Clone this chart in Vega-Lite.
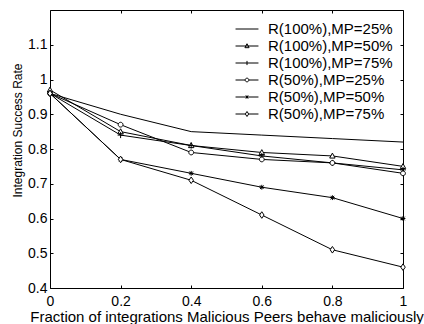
{
  "$schema": "https://vega.github.io/schema/vega-lite/v6.json",
  "width": 353,
  "height": 278,
  "autosize": {"type": "none"},
  "padding": {"left": 50, "top": 10, "right": 21, "bottom": 36},
  "background": "white",
  "config": {
    "font": "Liberation Sans",
    "view": {"stroke": "black", "strokeWidth": 1},
    "axis": {
      "grid": false,
      "domain": false,
      "tickColor": "black",
      "tickSize": 3,
      "offset": -3,
      "labelColor": "black",
      "labelFontSize": 14,
      "labelFlush": false,
      "labelOverlap": false,
      "titleColor": "black",
      "titleFontWeight": "normal"
    }
  },
  "data": {
    "values": [
      {"x": 0, "y": 0.96, "series": "R(100%),MP=25%"},
      {"x": 0.2, "y": 0.90, "series": "R(100%),MP=25%"},
      {"x": 0.4, "y": 0.85, "series": "R(100%),MP=25%"},
      {"x": 0.6, "y": 0.84, "series": "R(100%),MP=25%"},
      {"x": 0.8, "y": 0.83, "series": "R(100%),MP=25%"},
      {"x": 1, "y": 0.82, "series": "R(100%),MP=25%"},
      {"x": 0, "y": 0.97, "series": "R(100%),MP=50%"},
      {"x": 0.2, "y": 0.85, "series": "R(100%),MP=50%"},
      {"x": 0.4, "y": 0.81, "series": "R(100%),MP=50%"},
      {"x": 0.6, "y": 0.79, "series": "R(100%),MP=50%"},
      {"x": 0.8, "y": 0.78, "series": "R(100%),MP=50%"},
      {"x": 1, "y": 0.75, "series": "R(100%),MP=50%"},
      {"x": 0, "y": 0.96, "series": "R(100%),MP=75%"},
      {"x": 0.2, "y": 0.84, "series": "R(100%),MP=75%"},
      {"x": 0.4, "y": 0.81, "series": "R(100%),MP=75%"},
      {"x": 0.6, "y": 0.78, "series": "R(100%),MP=75%"},
      {"x": 0.8, "y": 0.76, "series": "R(100%),MP=75%"},
      {"x": 1, "y": 0.74, "series": "R(100%),MP=75%"},
      {"x": 0, "y": 0.96, "series": "R(50%),MP=25%"},
      {"x": 0.2, "y": 0.87, "series": "R(50%),MP=25%"},
      {"x": 0.4, "y": 0.79, "series": "R(50%),MP=25%"},
      {"x": 0.6, "y": 0.77, "series": "R(50%),MP=25%"},
      {"x": 0.8, "y": 0.76, "series": "R(50%),MP=25%"},
      {"x": 1, "y": 0.73, "series": "R(50%),MP=25%"},
      {"x": 0, "y": 0.96, "series": "R(50%),MP=50%"},
      {"x": 0.2, "y": 0.77, "series": "R(50%),MP=50%"},
      {"x": 0.4, "y": 0.73, "series": "R(50%),MP=50%"},
      {"x": 0.6, "y": 0.69, "series": "R(50%),MP=50%"},
      {"x": 0.8, "y": 0.66, "series": "R(50%),MP=50%"},
      {"x": 1, "y": 0.60, "series": "R(50%),MP=50%"},
      {"x": 0, "y": 0.96, "series": "R(50%),MP=75%"},
      {"x": 0.2, "y": 0.77, "series": "R(50%),MP=75%"},
      {"x": 0.4, "y": 0.71, "series": "R(50%),MP=75%"},
      {"x": 0.6, "y": 0.61, "series": "R(50%),MP=75%"},
      {"x": 0.8, "y": 0.51, "series": "R(50%),MP=75%"},
      {"x": 1, "y": 0.46, "series": "R(50%),MP=75%"}
    ]
  },
  "layer": [
    {
      "mark": {"type": "line", "color": "black", "strokeWidth": 1},
      "encoding": {
        "x": {
          "field": "x", "type": "quantitative",
          "scale": {"domain": [0, 1], "nice": false, "zero": false},
          "axis": {
            "orient": "bottom",
            "values": [0, 0.2, 0.4, 0.6, 0.8, 1],
            "format": "~g",
            "labelPadding": 6,
            "title": "Fraction of integrations Malicious Peers behave maliciously",
            "titleFontSize": 15,
            "titlePadding": 1
          }
        },
        "y": {
          "field": "y", "type": "quantitative",
          "scale": {"domain": [0.4, 1.2], "nice": false, "zero": false},
          "axis": {
            "orient": "left",
            "values": [0.4, 0.5, 0.6, 0.7, 0.8, 0.9, 1, 1.1],
            "format": "~g",
            "labelPadding": 3,
            "title": "Integration Success Rate",
            "titleFontSize": 12,
            "titlePadding": 3,
            "titleY": 120
          }
        },
        "detail": {"field": "series", "type": "nominal"}
      }
    },
    {
      "transform": [{"filter": "datum.series != 'R(100%),MP=25%'"}],
      "mark": {"type": "point", "filled": true, "fill": "white", "stroke": "black", "strokeWidth": 1, "opacity": 1, "size": 36},
      "encoding": {
        "x": {"field": "x", "type": "quantitative", "axis": null},
        "y": {"field": "y", "type": "quantitative", "axis": null},
        "shape": {
          "field": "series", "type": "nominal", "legend": null,
          "scale": {
            "domain": ["R(100%),MP=50%", "R(100%),MP=75%", "R(50%),MP=25%", "R(50%),MP=50%", "R(50%),MP=75%"],
            "range": [
              "M0,-0.95L0.9,0.7L-0.9,0.7Z",
              "M-1,0H1M0,-1V1",
              "M0.8,0A0.8,0.8,0,1,1,-0.8,0A0.8,0.8,0,1,1,0.8,0",
              "M-0.8,0H0.8M0,-0.8V0.8M-0.6,-0.6L0.6,0.6M-0.6,0.6L0.6,-0.6",
              "M0,-1.1L0.75,0L0,1.1L-0.75,0Z"
            ]
          }
        }
      }
    },
    {
      "mark": {"type": "point", "filled": false, "opacity": 0, "size": 280},
      "encoding": {
        "x": {
          "field": "x", "type": "quantitative",
          "axis": {"orient": "top", "values": [0, 0.2, 0.4, 0.6, 0.8, 1], "labels": false, "title": null}
        },
        "y": {
          "field": "y", "type": "quantitative",
          "axis": {"orient": "right", "values": [0.4, 0.5, 0.6, 0.7, 0.8, 0.9, 1, 1.1], "labels": false, "title": null}
        },
        "shape": {
          "field": "series", "type": "nominal",
          "scale": {
            "domain": ["R(100%),MP=25%", "R(100%),MP=50%", "R(100%),MP=75%", "R(50%),MP=25%", "R(50%),MP=50%", "R(50%),MP=75%"],
            "range": [
              "M-1.37,0H1.37",
              "M-1.37,0H1.37M0,-0.27L0.25,0.2L-0.25,0.2Z",
              "M-1.37,0H1.37M0,-0.25V0.25",
              "M-1.37,0H-0.22M0.22,0H1.37M0.22,0A0.22,0.22,0,1,1,-0.22,0A0.22,0.22,0,1,1,0.22,0",
              "M-1.37,0H1.37M0,-0.2V0.2M-0.16,-0.16L0.16,0.16M-0.16,0.16L0.16,-0.16",
              "M-1.37,0H-0.2M0.2,0H1.37M0,-0.3L0.2,0L0,0.3L-0.2,0Z"
            ]
          },
          "legend": {
            "title": null,
            "orient": "top-right",
            "offset": 10,
            "padding": 0,
            "rowPadding": 0,
            "labelFontSize": 15,
            "labelColor": "black",
            "labelOffset": 12,
            "labelLimit": 300,
            "symbolOpacity": 1,
            "symbolStrokeColor": "black",
            "symbolFillColor": "white",
            "symbolStrokeWidth": 1,
            "symbolSize": 280
          }
        }
      }
    }
  ],
  "resolve": {
    "scale": {"shape": "independent"},
    "legend": {"shape": "independent"},
    "axis": {"x": "independent", "y": "independent"}
  }
}
